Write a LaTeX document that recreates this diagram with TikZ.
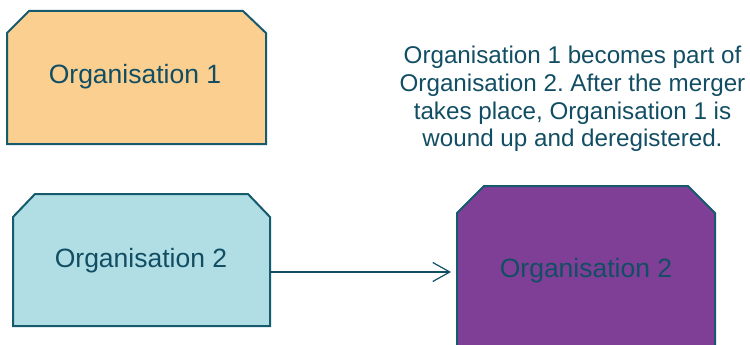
\documentclass[tikz,border=0pt]{standalone}
\usepackage{fontspec}
\setmainfont{Liberation Sans}
\usetikzlibrary{arrows.meta}
\frenchspacing
\definecolor{edge}{HTML}{165A6E}
\definecolor{ink}{HTML}{124E63}
\definecolor{peach}{HTML}{FBCF8F}
\definecolor{ice}{HTML}{B0DEE4}
\definecolor{plum}{HTML}{7F3F97}
\tikzset{
  orgbox/.style={draw=edge, line width=2pt, line join=miter},
  orglabel/.style={text=ink, inner sep=0pt, anchor=base, font=\fontsize{26.5}{30}\selectfont},
  note/.style={text=ink, inner sep=0pt, align=center, font=\fontsize{24.2}{27.6}\selectfont},
  link/.style={draw=ink, line width=1.2pt, -{Straight Barb[length=17pt,width=19pt,line width=1.2pt]}}
}
\begin{document}
\begin{tikzpicture}[x=1pt,y=-1pt]
\useasboundingbox (0,0) rectangle (750,345);
% boxes
\path[orgbox, fill=peach] (7,33) -- (29,11) -- (243,11) -- (266,33) -- (266,144) -- (7,144) -- cycle;
\path[orgbox, fill=ice] (13,217) -- (35,194) -- (248,194) -- (270,217) -- (270,326) -- (13,326) -- cycle;
\path[orgbox, fill=plum] (457,213) -- (484,186) -- (688,186) -- (715,213) -- (715,370) -- (457,370) -- cycle;
% labels
\node[orglabel] (org1) at (135,84) {Organisation 1};
\node[orglabel] (org2) at (141,267) {Organisation 2};
\node[orglabel] (org3) at (586,277) {Organisation 2};
\node[note] (desc) at (572.5,99) {Organisation 1 becomes part of\\Organisation 2. After the merger\\takes place, Organisation 1 is\\wound up and deregistered.};
% connector
\coordinate (src) at (270,272);
\coordinate (dst) at (451,272);
\draw[link] (src) -- (dst);
\end{tikzpicture}
\end{document}
